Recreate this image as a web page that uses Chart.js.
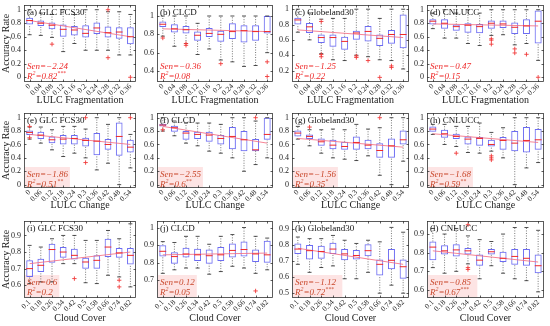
<!DOCTYPE html>
<html lang="en">
<head>
<meta charset="UTF-8">
<title>Accuracy rate boxplots</title>
<script src="https://cdn.jsdelivr.net/npm/chart.js"></script>
<style>
  body { margin: 0; background: #fff; }
  #wrap { position: relative; width: 550px; height: 326px; overflow: hidden; background: #fff; }
  #wrap canvas { position: absolute; }
</style>
</head>
<body>
<div id="wrap"></div>
<script>
// categories on the x axes
const fragCats = ['0', '0.04', '0.08', '0.12', '0.16', '0.2', '0.24', '0.28', '0.32', '0.36'];
const changeCats = ['0', '0.06', '0.12', '0.18', '0.24', '0.3', '0.36', '0.42', '0.48', '0.54'];
const cloudCats = ['0.1', '0.18', '0.26', '0.34', '0.42', '0.5', '0.58', '0.66', '0.74', '0.82'];

// y tick labels
const ticks0to1 = [0, 0.2, 0.4, 0.6, 0.8, 1];
const ticksB = [0.4, 0.6, 0.8, 1];
const ticksC = [0.2, 0.4, 0.6, 0.8, 1];
const ticksI = [0.6, 0.7, 0.8, 0.9];
const ticksJ = [0.7, 0.8, 0.9, 1];
const ticksK = [0.5, 0.6, 0.7, 0.8, 0.9];
const ticksL = [0.6, 0.7, 0.8, 0.9];

// boxes: [lower whisker, q1, median, q3, upper whisker]
const boxA = [[0.63,0.78,0.84,0.88,1.0],[0.62,0.76,0.80,0.84,0.95],[0.59,0.71,0.77,0.81,0.93],[0.38,0.60,0.71,0.78,1.0],[0.50,0.62,0.70,0.76,0.93],
              [0.40,0.59,0.65,0.77,1.0],[0.40,0.64,0.73,0.81,1.0],[0.40,0.59,0.66,0.75,0.97],[0.33,0.57,0.67,0.74,0.97],[0.33,0.49,0.60,0.74,0.93]];
const boxB = [[0.78,0.88,0.91,0.94,1.0],[0.67,0.82,0.86,0.91,1.0],[0.70,0.81,0.85,0.89,1.0],[0.58,0.73,0.79,0.83,0.92],[0.64,0.77,0.81,0.87,1.0],
              [0.52,0.72,0.80,0.84,1.0],[0.50,0.75,0.83,0.92,1.0],[0.45,0.71,0.84,0.90,1.0],[0.46,0.73,0.83,0.90,1.0],[0.60,0.81,0.83,1.0,1.0]];
const boxC = [[0.70,0.80,0.86,0.89,1.0],[0.60,0.69,0.77,0.82,0.95],[0.42,0.56,0.63,0.67,0.87],[0.34,0.51,0.63,0.67,0.88],[0.33,0.47,0.58,0.64,0.88],
              [0.40,0.60,0.69,0.72,1.0],[0.38,0.58,0.71,0.78,1.0],[0.34,0.52,0.62,0.67,0.88],[0.33,0.55,0.67,0.73,1.0],[0.22,0.49,0.67,0.93,1.0]];
const boxD = [[0.72,0.78,0.83,0.86,0.95],[0.58,0.72,0.80,0.86,1.0],[0.58,0.69,0.75,0.78,0.95],[0.50,0.66,0.77,0.80,1.0],[0.47,0.65,0.75,0.79,0.95],
              [0.62,0.72,0.80,0.84,1.0],[0.63,0.73,0.79,0.84,1.0],[0.48,0.64,0.74,0.81,1.0],[0.50,0.64,0.76,0.86,1.0],[0.25,0.50,0.83,0.99,1.0]];
const boxE = [[0.68,0.74,0.78,0.81,0.86],[0.62,0.68,0.74,0.79,0.86],[0.52,0.62,0.67,0.72,0.82],[0.42,0.60,0.68,0.74,0.87],[0.47,0.60,0.69,0.74,0.87],
              [0.40,0.57,0.66,0.70,0.83],[0.22,0.44,0.65,0.77,1.0],[0.32,0.52,0.60,0.68,0.90],[0.0,0.43,0.72,0.93,1.0],[0.25,0.48,0.56,0.67,0.75]];
const boxF = [[0.80,0.87,0.89,0.91,1.0],[0.73,0.79,0.85,0.88,0.95],[0.62,0.67,0.77,0.80,0.92],[0.58,0.68,0.75,0.79,0.92],[0.50,0.64,0.74,0.79,0.92],
              [0.47,0.60,0.69,0.74,0.90],[0.40,0.53,0.72,0.86,1.0],[0.20,0.50,0.67,0.80,1.0],[0.30,0.50,0.52,0.68,0.95],[0.40,0.67,0.75,1.0,1.0]];
const boxG = [[0.68,0.72,0.77,0.81,0.87],[0.58,0.68,0.72,0.75,0.82],[0.47,0.58,0.64,0.69,0.82],[0.40,0.53,0.59,0.67,0.83],[0.38,0.52,0.57,0.64,0.82],
              [0.36,0.52,0.63,0.72,0.90],[0.43,0.53,0.59,0.67,0.83],[0.14,0.40,0.51,0.62,0.85],[0.0,0.40,0.58,0.69,1.0],[0.35,0.60,0.67,0.81,1.0]];
const boxH = [[0.75,0.79,0.83,0.87,0.90],[0.60,0.70,0.76,0.82,0.90],[0.57,0.68,0.72,0.76,0.87],[0.48,0.60,0.68,0.72,0.87],[0.47,0.58,0.69,0.71,0.92],
              [0.50,0.57,0.60,0.67,0.78],[0.40,0.52,0.66,0.71,0.85],[0.0,0.50,0.62,0.80,1.0],[0.25,0.48,0.66,0.86,1.0],[0.33,0.52,0.67,0.83,1.0]];
const boxI = [[0.61,0.65,0.70,0.75,0.84],[0.62,0.68,0.72,0.76,0.83],[0.62,0.735,0.815,0.85,0.88],[0.73,0.765,0.80,0.83,0.90],[0.73,0.755,0.78,0.82,0.90],
              [0.615,0.70,0.74,0.765,0.87],[0.61,0.70,0.75,0.78,0.87],[0.66,0.77,0.83,0.88,0.93],[0.65,0.765,0.795,0.825,0.88],[0.59,0.725,0.78,0.825,0.97]];
const boxJ = [[0.74,0.835,0.865,0.90,0.92],[0.76,0.795,0.835,0.86,0.915],[0.77,0.83,0.85,0.885,0.95],[0.77,0.81,0.845,0.88,0.95],[0.735,0.795,0.84,0.875,0.905],
              [0.75,0.81,0.845,0.89,0.95],[0.78,0.83,0.87,0.91,0.96],[0.77,0.835,0.875,0.92,1.0],[0.74,0.805,0.85,0.875,0.95],[0.76,0.80,0.845,0.925,0.94]];
const boxK = [[0.68,0.745,0.775,0.81,0.85],[0.63,0.71,0.765,0.80,0.84],[0.66,0.715,0.76,0.795,0.84],[0.67,0.745,0.775,0.815,0.86],[0.59,0.705,0.745,0.775,0.83],
              [0.59,0.71,0.735,0.77,0.81],[0.63,0.73,0.765,0.805,0.83],[0.50,0.61,0.68,0.71,0.82],[0.55,0.65,0.705,0.775,0.91],[0.50,0.59,0.665,0.71,0.88]];
const boxL = [[0.72,0.76,0.83,0.86,0.93],[0.69,0.79,0.81,0.84,0.90],[0.70,0.78,0.815,0.845,0.93],[0.74,0.79,0.81,0.825,0.89],[0.66,0.73,0.76,0.79,0.87],
              [0.73,0.79,0.805,0.82,0.86],[0.69,0.75,0.77,0.805,0.90],[0.66,0.735,0.78,0.82,0.935],[0.65,0.73,0.77,0.82,0.935],[0.59,0.69,0.73,0.79,0.92]];

// outliers: [category index, value]
const outA = [[2,0.49],[7,1.0],[7,0.29],[9,0.0]];
const outB = [[0,0.76],[2,0.68],[2,0.70],[5,0.48],[9,0.5],[9,0.34]];
const outC = [[2,0.84],[2,0.41],[2,0.38],[5,0.37],[5,0.39],[6,0.33],[7,0.11],[8,0.24],[8,0.26]];
const outD = [[5,0.57],[5,0.55],[5,0.49],[7,0.42],[7,0.36],[8,0.34],[9,0.0]];
const outE = [[0,0.87],[0,0.70],[5,1.0],[5,0.33],[9,1.0]];
const outF = [[0,0.82],[8,1.0]];
const outG = [[1,0.86],[7,1.0]];
const outH = [[2,0.47],[5,0.43],[5,0.40],[5,0.37]];
const outI = [[4,0.64],[8,0.63],[8,0.59]];
const outJ = [[8,0.64]];
const outK = [];
const outL = [[3,0.72],[3,0.71],[3,0.95]];

// Sen trend line: value at first and last category
const trendA = [0.84, 0.60], trendB = [0.86, 0.83], trendC = [0.73, 0.63], trendD = [0.79, 0.76];
const trendE = [0.75, 0.60], trendF = [0.87, 0.62], trendG = [0.69, 0.56], trendH = [0.76, 0.63];
const trendI = [0.73, 0.80], trendJ = [0.845, 0.855], trendK = [0.78, 0.68], trendL = [0.81, 0.75];

// panel titles and statistics
const titles = ['(a) GLC FCS30','(b) CLCD','(c) Globeland30','(d) CNLUCC','(e) GLC FCS30','(f) CLCD','(g) Globeland30','(h) CNLUCC',
                '(i) GLC FCS30','(j) CLCD','(k) Globeland30','(l) CNLUCC'];
const senVals = ['\u22122.24','\u22120.36','\u22121.25','\u22120.47','\u22121.86','\u22122.55','\u22121.56','\u22121.68','0.6','0.12','\u22121.12','\u22120.85'];
const r2Vals = ['0.82','0.08','0.22','0.15','0.51','0.6','0.35','0.59','0.2','0.05','0.72','0.67'];
const r2Stars = ['***','','','','**','**','*','**','','','***','***'];
const xTitles = ['LULC Fragmentation', 'LULC Change', 'Cloud Cover'];

const SERIF = '"Liberation Serif", "Times New Roman", serif';

const panels = [
  { box: boxA, out: outA, trend: trendA, cats: fragCats, yt: ticks0to1, ymin: -0.07, ymax: 1.07 },
  { box: boxB, out: outB, trend: trendB, cats: fragCats, yt: ticksB, ymin: 0.28, ymax: 1.12 },
  { box: boxC, out: outC, trend: trendC, cats: fragCats, yt: ticksC, ymin: 0.05, ymax: 1.055 },
  { box: boxD, out: outD, trend: trendD, cats: fragCats, yt: ticks0to1, ymin: -0.07, ymax: 1.07 },
  { box: boxE, out: outE, trend: trendE, cats: changeCats, yt: ticks0to1, ymin: -0.05, ymax: 1.07 },
  { box: boxF, out: outF, trend: trendF, cats: changeCats, yt: ticks0to1, ymin: -0.05, ymax: 1.07 },
  { box: boxG, out: outG, trend: trendG, cats: changeCats, yt: ticks0to1, ymin: -0.05, ymax: 1.07 },
  { box: boxH, out: outH, trend: trendH, cats: changeCats, yt: ticks0to1, ymin: -0.05, ymax: 1.07 },
  { box: boxI, out: outI, trend: trendI, cats: cloudCats, yt: ticksI, ymin: 0.523, ymax: 0.987 },
  { box: boxJ, out: outJ, trend: trendJ, cats: cloudCats, yt: ticksJ, ymin: 0.60, ymax: 1.037 },
  { box: boxK, out: outK, trend: trendK, cats: cloudCats, yt: ticksK, ymin: 0.47, ymax: 0.95 },
  { box: boxL, out: outL, trend: trendL, cats: cloudCats, yt: ticksL, ymin: 0.557, ymax: 0.97 }
];

// plot area geometry (pixels in the page)
const cols = [{ L: 24, R: 139, yw: 24 }, { L: 157, R: 276, yw: 17 }, { L: 292, R: 412, yw: 17 }, { L: 427, R: 547, yw: 17 }];
const rows = [{ T: 2, B: 82, xh: 24 }, { T: 110, B: 188, xh: 23 }, { T: 218, B: 298, xh: 26 }];

function drawRich(ctx, x, y, parts, size) {
  for (const p of parts) {
    const fs = p.sup ? size * 0.65 : size;
    ctx.font = 'italic ' + fs + 'px ' + SERIF;
    ctx.fillText(p.t, x, p.sup ? y - size * 0.4 : y);
    x += ctx.measureText(p.t).width;
  }
  return x;
}

const decor = {
  id: 'decor',
  beforeDatasetsDraw(chart, args, o) {
    if (o.row === 0) return;
    const a = chart.chartArea, ctx = chart.ctx;
    ctx.save();
    ctx.font = 'italic 9px ' + SERIF;
    const w = Math.max(ctx.measureText('Sen=' + o.sen).width, ctx.measureText('R2=' + o.r2 + o.stars).width) + 4;
    ctx.fillStyle = '#fde4e4';
    ctx.fillRect(a.left + 1, a.top + 54, w, a.bottom - a.top - 55);
    ctx.restore();
  },
  afterDraw(chart, args, o) {
    const a = chart.chartArea, ctx = chart.ctx;
    const xs = chart.scales.x, ys = chart.scales.y;
    ctx.save();
    // frame
    ctx.strokeStyle = '#333';
    ctx.lineWidth = 0.8;
    ctx.strokeRect(a.left + 0.5, a.top + 0.5, a.right - a.left - 1, a.bottom - a.top - 1);
    // inward ticks
    ctx.beginPath();
    ys.ticks.forEach(t => {
      const y = Math.round(ys.getPixelForValue(t.value)) + 0.5;
      ctx.moveTo(a.left, y); ctx.lineTo(a.left + 2.5, y);
      ctx.moveTo(a.right, y); ctx.lineTo(a.right - 2.5, y);
    });
    xs.ticks.forEach((t, i) => {
      const x = Math.round(xs.getPixelForValue(i)) + 0.5;
      ctx.moveTo(x, a.bottom); ctx.lineTo(x, a.bottom - 2.5);
      ctx.moveTo(x, a.top); ctx.lineTo(x, a.top + 2.5);
    });
    ctx.stroke();
    // panel title
    ctx.fillStyle = '#111';
    ctx.font = '9px ' + SERIF;
    ctx.textBaseline = 'alphabetic';
    ctx.fillText(o.title, a.left + 3, a.top + 10);
    // statistics
    ctx.fillStyle = o.row === 0 ? '#ee2a2a' : '#c9482c';
    drawRich(ctx, a.left + 3, a.top + 64, [{ t: 'Sen=' + o.sen }], 9);
    drawRich(ctx, a.left + 3, a.top + 74, [{ t: 'R' }, { t: '2', sup: true }, { t: '=' + o.r2 }, { t: o.stars, sup: true }], 9);
    ctx.restore();
  }
};

const wrap = document.getElementById('wrap');

panels.forEach((p, k) => {
  const row = Math.floor(k / 4), col = k % 4;
  const c = cols[col], r = rows[row];
  const cv = document.createElement('canvas');
  const w = c.R - c.L + c.yw + 2, h = r.B - r.T + 2 + r.xh;
  cv.width = w; cv.height = h;
  cv.style.left = (c.L - c.yw) + 'px';
  cv.style.top = (r.T - 2) + 'px';
  cv.style.width = w + 'px'; cv.style.height = h + 'px';
  wrap.appendChild(cv);

  const cats = p.cats;
  const whisk = [];
  const caps = [];
  p.box.forEach((b, i) => {
    whisk.push({ x: cats[i], y: b[0] }, { x: cats[i], y: b[1] }, { x: cats[i], y: null });
    whisk.push({ x: cats[i], y: b[3] }, { x: cats[i], y: b[4] }, { x: cats[i], y: null });
    caps.push({ x: cats[i], y: b[0] }, { x: cats[i], y: b[4] });
  });

  new Chart(cv.getContext('2d'), {
    type: 'bar',
    data: {
      labels: cats,
      datasets: [
        { type: 'line', order: 0, data: p.out.map(o => ({ x: cats[o[0]], y: o[1] })), showLine: false,
          pointStyle: 'cross', pointRadius: 2.2, pointBorderColor: '#f03a3a', pointBorderWidth: 0.9, pointBackgroundColor: '#f03a3a' },
        { type: 'line', order: 1, data: p.box.map((b, i) => ({ x: cats[i], y: b[2] })), showLine: false,
          pointStyle: 'line', pointRadius: 3.4, pointBorderColor: '#f02828', pointBorderWidth: 1, pointBackgroundColor: '#f02828' },
        { type: 'line', order: 2, data: [{ x: cats[0], y: p.trend[0] }, { x: cats[cats.length - 1], y: p.trend[1] }],
          borderColor: 'rgba(245,110,130,0.85)', borderWidth: 1, pointRadius: 0 },
        { type: 'line', order: 3, data: caps, showLine: false,
          pointStyle: 'line', pointRadius: 2, pointBorderColor: '#222', pointBorderWidth: 0.8 },
        { type: 'bar', order: 4, data: p.box.map(b => [b[1], b[3]]),
          backgroundColor: 'rgba(0,0,0,0)', borderColor: '#6b6bf2', borderWidth: 1, borderSkipped: false,
          categoryPercentage: 1, barPercentage: 0.6 },
        { type: 'line', order: 5, data: whisk, spanGaps: false,
          borderColor: '#555', borderWidth: 0.8, borderDash: [1, 1.5], pointRadius: 0 }
      ]
    },
    options: {
      responsive: false,
      animation: false,
      devicePixelRatio: 1,
      layout: { padding: { top: 2, right: 2, left: 0, bottom: 0 } },
      plugins: {
        legend: { display: false },
        tooltip: { enabled: false },
        decor: { row: row, title: titles[k], sen: senVals[k], r2: r2Vals[k], stars: r2Stars[k] }
      },
      scales: {
        x: {
          type: 'category',
          offset: true,
          grid: { display: false, drawTicks: false },
          border: { display: false },
          ticks: { autoSkip: false, minRotation: 45, maxRotation: 45, padding: 0, color: '#222',
                   font: { family: SERIF, size: 7.5 } },
          title: { display: true, text: xTitles[row], color: '#222', font: { family: SERIF, size: 10 },
                   padding: { top: 0, bottom: 0 } },
          afterFit(s) { s.height = r.xh; s.paddingLeft = 0; s.paddingRight = 0; }
        },
        y: {
          min: p.ymin, max: p.ymax,
          grid: { display: false, drawTicks: false },
          border: { display: false },
          ticks: { padding: 3, color: '#222', font: { family: SERIF, size: 8 },
                   callback: v => String(+v.toFixed(2)) },
          title: { display: col === 0, text: 'Accuracy Rate', color: '#222', font: { family: SERIF, size: 10 },
                   padding: { top: 0, bottom: 0 } },
          afterBuildTicks(s) { s.ticks = p.yt.map(v => ({ value: v })); },
          afterFit(s) { s.width = c.yw; s.paddingTop = 0; s.paddingBottom = 0; }
        }
      }
    },
    plugins: [decor]
  });
});
</script>
</body>
</html>
